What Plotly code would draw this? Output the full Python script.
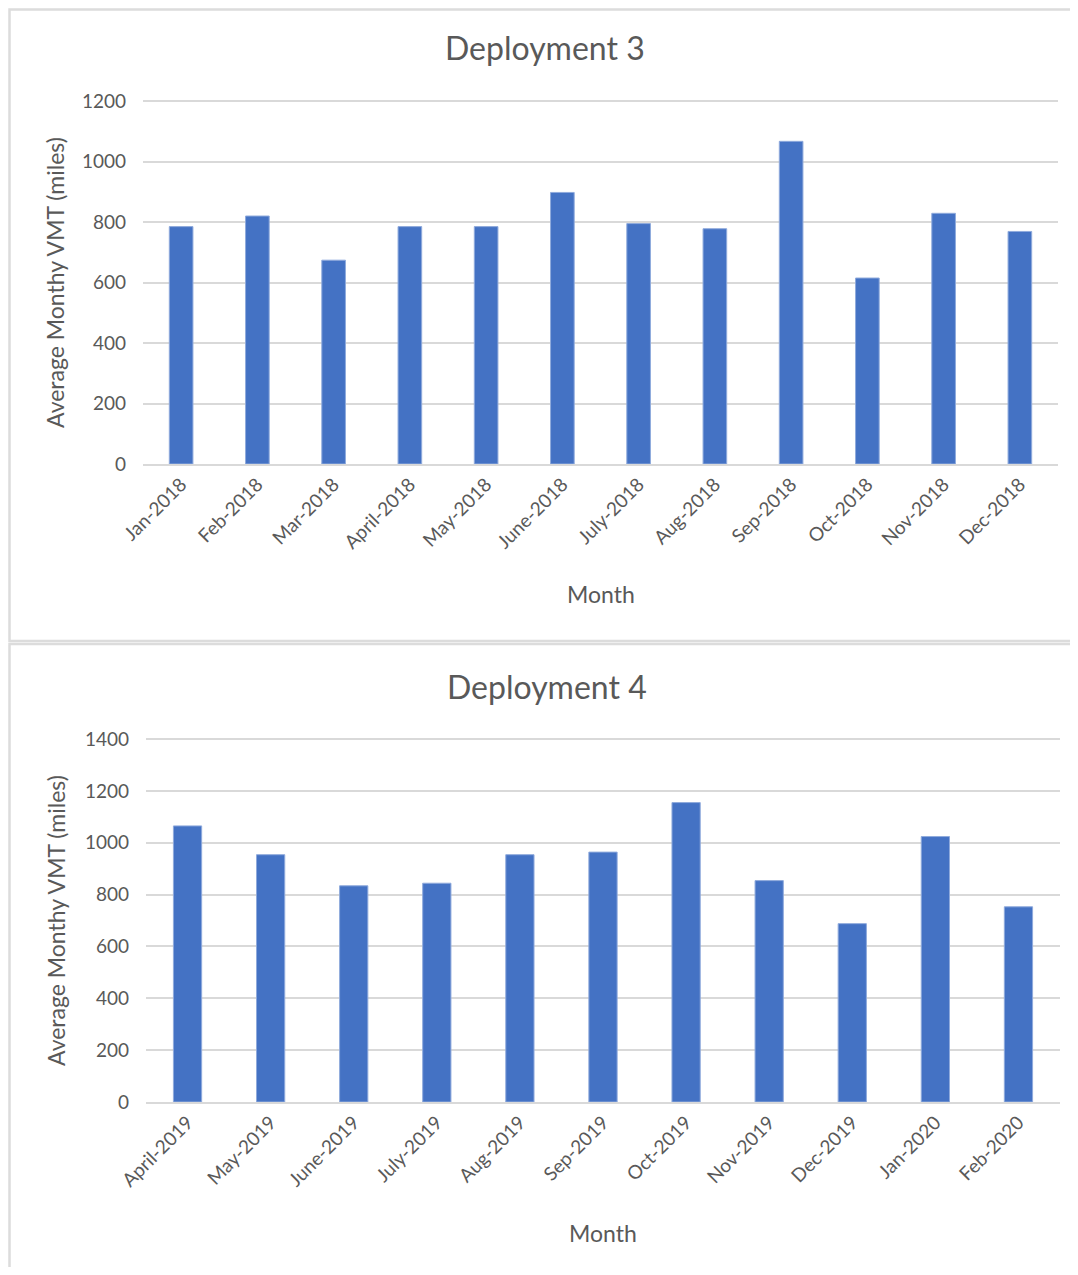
import plotly.graph_objects as go

# page has 8px body margin; figure sized so it fits the 1078x1275 window
OFF = 8
W, H = 1078 - 2 * OFF, 1275 - 2 * OFF

months3 = ["Jan-2018", "Feb-2018", "Mar-2018", "April-2018", "May-2018", "June-2018",
           "July-2018", "Aug-2018", "Sep-2018", "Oct-2018", "Nov-2018", "Dec-2018"]
vmt3 = [785, 820, 674, 785, 785, 898, 795, 778, 1067, 615, 829, 769]

months4 = ["April-2019", "May-2019", "June-2019", "July-2019", "Aug-2019", "Sep-2019",
           "Oct-2019", "Nov-2019", "Dec-2019", "Jan-2020", "Feb-2020"]
vmt4 = [1065, 954, 834, 844, 954, 964, 1155, 854, 688, 1024, 753]

titles = ["Deployment 3", "Deployment 4"]
ytitle = "Average Monthy VMT (miles)"
xtitle = "Month"

BAR = "#4472C4"
GRID = "#d9d9d9"
TXT = "#595959"
FONT = "Lato"


def px(x):
    return (x - OFF) / W


def py(y):
    return 1 - (y - OFF) / H


fig = go.Figure()
fig.add_trace(go.Bar(x=months3, y=vmt3, marker=dict(color=BAR, line=dict(color="#8faadc", width=1)),
                     width=0.31, xaxis="x", yaxis="y", showlegend=False))
fig.add_trace(go.Bar(x=months4, y=vmt4, marker=dict(color=BAR, line=dict(color="#8faadc", width=1)),
                     width=0.34, xaxis="x2", yaxis="y2", showlegend=False))

common_x = dict(tickangle=-45, tickfont=dict(family=FONT, size=19, color=TXT),
                showline=True, linecolor=GRID, linewidth=2, showgrid=False,
                ticks="", fixedrange=True, automargin=False)
common_y = dict(tickfont=dict(family=FONT, size=19, color=TXT), showgrid=True,
                gridcolor=GRID, gridwidth=2, zeroline=False, showline=False,
                ticks="", ticklabelstandoff=16, tickmode="linear", tick0=0, dtick=200,
                automargin=False)

fig.update_layout(
    width=W, height=H,
    margin=dict(l=0, r=0, t=0, b=0, pad=0, autoexpand=False),
    paper_bgcolor="white", plot_bgcolor="white",
    xaxis=dict(domain=[px(143), px(1058)], anchor="y", **common_x),
    yaxis=dict(domain=[py(464), py(99)], anchor="x", range=[0, 1207], **common_y),
    xaxis2=dict(domain=[px(146), px(1060)], anchor="y2", **common_x),
    yaxis2=dict(domain=[py(1102), py(737)], anchor="x2", range=[0, 1408], **common_y),
)

annos = [
    dict(text=titles[0], x=px(545), y=py(47), font=dict(size=32, color=TXT, family=FONT)),
    dict(text=titles[1], x=px(547), y=py(686), font=dict(size=32, color=TXT, family=FONT)),
    dict(text=xtitle, x=px(601), y=py(594), font=dict(size=23, color=TXT, family=FONT)),
    dict(text=xtitle, x=px(603), y=py(1233), font=dict(size=23, color=TXT, family=FONT)),
    dict(text=ytitle, x=px(55), y=py(283), textangle=-90, font=dict(size=23, color=TXT, family=FONT)),
    dict(text=ytitle, x=px(56), y=py(921), textangle=-90, font=dict(size=23, color=TXT, family=FONT)),
]
for a in annos:
    fig.add_annotation(xref="paper", yref="paper", showarrow=False,
                       xanchor="center", yanchor="middle", **a)

# panel borders
fig.add_shape(type="rect", xref="paper", yref="paper",
              x0=px(9.5), x1=px(1100), y0=py(641), y1=py(9.5),
              line=dict(color="#dcdcdc", width=2.5), layer="below")
fig.add_shape(type="rect", xref="paper", yref="paper",
              x0=px(9.5), x1=px(1100), y0=py(1290), y1=py(644),
              line=dict(color="#dcdcdc", width=2.5), layer="below")

fig.write_html("out.html")
